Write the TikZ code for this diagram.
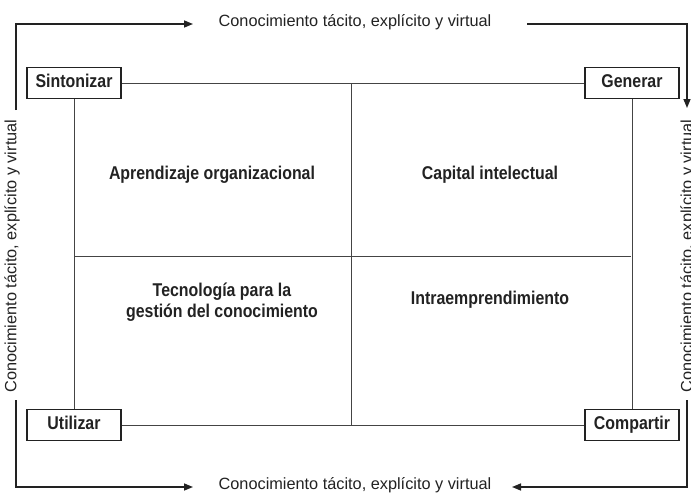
\documentclass[tikz,border=0pt]{standalone}
\usepackage{fontspec}
\setmainfont{Liberation Sans}
\newfontfamily\condf[FakeStretch=0.86]{Liberation Sans}
\usetikzlibrary{arrows.meta}
\definecolor{ink}{HTML}{222222}
\definecolor{gline}{HTML}{444444}
\begin{document}
\begin{tikzpicture}[x=1pt,y=-1pt,
  lab/.style={font=\condf\bfseries\fontsize{18.5}{21}\selectfont, text=ink},
  boxn/.style={lab, draw=ink, line width=1.4pt, fill=white, minimum width=94pt, minimum height=31pt, inner sep=0pt, text height=13pt, text depth=3.5pt},
  cell/.style={lab, align=center},
  flow/.style={font=\fontsize{16.3}{18}\selectfont, text=ink, inner sep=0pt},
  grid/.style={draw=gline, line width=1pt},
  arr/.style={draw=ink, line width=1.5pt, -{Triangle[length=9pt,width=7pt]}}]
\useasboundingbox (0,0) rectangle (691,493);
% grid lines
\coordinate (tm) at (351,83);
\coordinate (bm) at (351,425);
\coordinate (ml) at (74,256);
\coordinate (mr) at (631,256);
\node[boxn] (S) at (74,83) {Sintonizar};
\node[boxn] (G) at (632,83) {Generar};
\node[boxn] (U) at (74,425) {Utilizar};
\node[boxn] (C) at (632,425) {Compartir};
\draw[grid] (S) -- (G);
\draw[grid] (U) -- (C);
\draw[grid] (S) -- (U);
\draw[grid] (G) -- (C);
\draw[grid] (tm) -- (bm);
\draw[grid] (ml) -- (mr);
% redraw boxes on top
\node[boxn] at (74,83) {Sintonizar};
\node[boxn] at (632,83) {Generar};
\node[boxn] at (74,425) {Utilizar};
\node[boxn] at (632,425) {Compartir};
% cells
\node[cell] (a) at (212,175) {Aprendizaje organizacional};
\node[cell] (b) at (490,175) {Capital intelectual};
\node[cell] (c) at (222,302) {Tecnología para la\\gestión del conocimiento};
\node[cell] (d) at (490,300) {Intraemprendimiento};
% outer flow labels
\node[flow] (tt) at (355,22) {Conocimiento tácito, explícito y virtual};
\node[flow] (tb) at (355,485) {Conocimiento tácito, explícito y virtual};
\node[flow, rotate=90] (tl) at (12,256) {Conocimiento tácito, explícito y virtual};
\node[flow, rotate=90] (tr) at (688,256) {Conocimiento tácito, explícito y virtual};
% flow coordinates
\coordinate (l1) at (16,110);
\coordinate (l2) at (16,24);
\coordinate (t1) at (193,24);
\coordinate (t2) at (527,24);
\coordinate (r1) at (687,24);
\coordinate (r2) at (687,108);
\coordinate (r3) at (687,400);
\coordinate (r4) at (687,487);
\coordinate (b1) at (512,487);
\coordinate (l3) at (16,400);
\coordinate (l4) at (16,487);
\coordinate (b2) at (193,487);
\draw[arr] (l1) -- (l2) -- (t1);
\draw[arr] (t2) -- (r1) -- (r2);
\draw[arr] (r3) -- (r4) -- (b1);
\draw[arr] (l3) -- (l4) -- (b2);
\end{tikzpicture}
\end{document}
